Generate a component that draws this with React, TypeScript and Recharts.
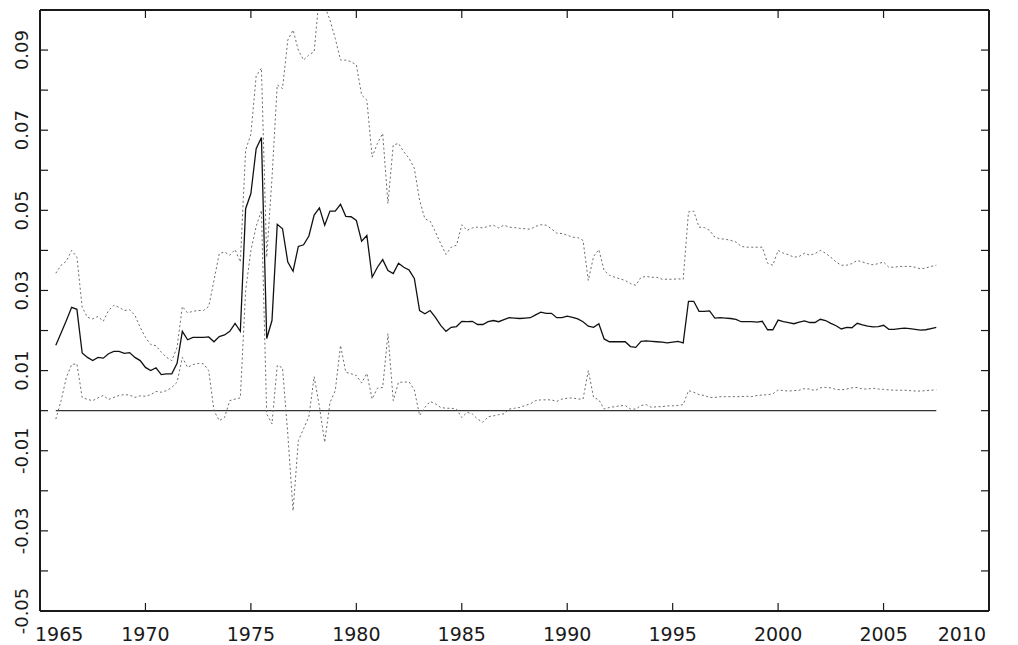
import { LineChart, Line, XAxis, YAxis, ReferenceLine } from 'recharts'

// quarterly estimates, first observation 1965Q4
const START_YEAR = 1965.75
const STEP = 0.25

const mean = [
  0.0163, 0.0194, 0.0225, 0.0258, 0.0253, 0.0144, 0.0133, 0.0125, 0.0133, 0.0131,
  0.0142, 0.0148, 0.0148, 0.0143, 0.0145, 0.0133, 0.0125, 0.0108, 0.0100, 0.0107,
  0.0090, 0.0092, 0.0092, 0.0118, 0.0198, 0.0177, 0.0183, 0.0183, 0.0183, 0.0184,
  0.0172, 0.0185, 0.0189, 0.0198, 0.0218, 0.0198, 0.0504, 0.0542, 0.0654, 0.0682,
  0.0180, 0.0225, 0.0465, 0.0454, 0.0371, 0.0348, 0.0410, 0.0414, 0.0436, 0.0488,
  0.0506, 0.0463, 0.0498, 0.0498, 0.0515, 0.0485, 0.0484, 0.0475, 0.0423, 0.0437,
  0.0333, 0.0358, 0.0377, 0.0350, 0.0342, 0.0368, 0.0358, 0.0351, 0.0330, 0.0250,
  0.0242, 0.0250, 0.0233, 0.0213, 0.0198, 0.0208, 0.0210, 0.0223, 0.0222, 0.0223,
  0.0215, 0.0215, 0.0222, 0.0225, 0.0222, 0.0227, 0.0232, 0.0231, 0.0230, 0.0231,
  0.0232, 0.0239, 0.0246, 0.0243, 0.0243, 0.0232, 0.0232, 0.0236, 0.0233, 0.0229,
  0.0222, 0.0211, 0.0208, 0.0217, 0.0179, 0.0172, 0.0172, 0.0172, 0.0172, 0.0160,
  0.0158, 0.0173, 0.0174, 0.0173, 0.0172, 0.0171, 0.0169, 0.0171, 0.0173, 0.0169,
  0.0273, 0.0273, 0.0248, 0.0248, 0.0249, 0.0231, 0.0232, 0.0231, 0.0230, 0.0228,
  0.0222, 0.0222, 0.0222, 0.0221, 0.0223, 0.0202, 0.0202, 0.0226, 0.0222, 0.0220,
  0.0217, 0.0221, 0.0224, 0.0220, 0.0220, 0.0228, 0.0225, 0.0218, 0.0212, 0.0204,
  0.0208, 0.0207, 0.0218, 0.0214, 0.0211, 0.0209, 0.0210, 0.0213, 0.0203, 0.0203,
  0.0205, 0.0206, 0.0205, 0.0203, 0.0201, 0.0202, 0.0205, 0.0208,
]

const upper = [
  0.0343, 0.0363, 0.0373, 0.0400, 0.0383, 0.0258, 0.0233, 0.0229, 0.0235, 0.0223,
  0.0250, 0.0263, 0.0258, 0.0250, 0.0252, 0.0238, 0.0208, 0.0183, 0.0165, 0.0162,
  0.0146, 0.0133, 0.0125, 0.0158, 0.0260, 0.0244, 0.0248, 0.0250, 0.0250, 0.0260,
  0.0325, 0.0392, 0.0396, 0.0388, 0.0402, 0.0371, 0.0650, 0.0690, 0.0835, 0.0855,
  0.0383, 0.0580, 0.0813, 0.0804, 0.0925, 0.0950, 0.0900, 0.0875, 0.0888, 0.0896,
  0.1040, 0.1010, 0.0975, 0.0929, 0.0875, 0.0875, 0.0871, 0.0863, 0.0788, 0.0775,
  0.0633, 0.0667, 0.0692, 0.0517, 0.0663, 0.0667, 0.0646, 0.0630, 0.0605, 0.0525,
  0.0479, 0.0473, 0.0446, 0.0417, 0.0390, 0.0408, 0.0413, 0.0464, 0.0450, 0.0456,
  0.0458, 0.0456, 0.0460, 0.0463, 0.0456, 0.0463, 0.0458, 0.0457, 0.0455, 0.0454,
  0.0453, 0.0460, 0.0464, 0.0463, 0.0454, 0.0443, 0.0442, 0.0438, 0.0433, 0.0432,
  0.0425, 0.0325, 0.0385, 0.0402, 0.0350, 0.0338, 0.0333, 0.0329, 0.0325, 0.0317,
  0.0313, 0.0333, 0.0335, 0.0333, 0.0333, 0.0328, 0.0328, 0.0328, 0.0329, 0.0328,
  0.0496, 0.0498, 0.0458, 0.0457, 0.0450, 0.0433, 0.0429, 0.0428, 0.0425, 0.0421,
  0.0410, 0.0408, 0.0408, 0.0408, 0.0408, 0.0368, 0.0363, 0.0400, 0.0393, 0.0389,
  0.0383, 0.0385, 0.0393, 0.0388, 0.0392, 0.0400, 0.0393, 0.0383, 0.0371, 0.0363,
  0.0363, 0.0367, 0.0375, 0.0371, 0.0367, 0.0364, 0.0367, 0.0371, 0.0358, 0.0358,
  0.0360, 0.0360, 0.0360, 0.0358, 0.0354, 0.0356, 0.0360, 0.0363,
]

const lower = [
  -0.0021, 0.0025, 0.0083, 0.0115, 0.0117, 0.0033, 0.0028, 0.0025, 0.0032, 0.0038,
  0.0028, 0.0033, 0.0038, 0.0040, 0.0039, 0.0033, 0.0037, 0.0036, 0.0040, 0.0048,
  0.0046, 0.0050, 0.0058, 0.0071, 0.0133, 0.0108, 0.0115, 0.0118, 0.0117, 0.0100,
  0.0000, -0.0025, -0.0017, 0.0025, 0.0029, 0.0032, 0.0300, 0.0400, 0.0460, 0.0500,
  -0.0008, -0.0033, 0.0113, 0.0107, -0.0058, -0.0250, -0.0075, -0.0045, -0.0015, 0.0085,
  0.0010, -0.0079, 0.0020, 0.0050, 0.0163, 0.0096, 0.0092, 0.0088, 0.0069, 0.0093,
  0.0029, 0.0056, 0.0058, 0.0192, 0.0025, 0.0071, 0.0071, 0.0072, 0.0052, -0.0012,
  0.0008, 0.0023, 0.0017, 0.0008, 0.0006, 0.0006, 0.0004, -0.0017, -0.0004, -0.0008,
  -0.0021, -0.0029, -0.0015, -0.0013, -0.0010, -0.0008, 0.0004, 0.0006, 0.0008, 0.0013,
  0.0017, 0.0025, 0.0027, 0.0027, 0.0027, 0.0023, 0.0029, 0.0031, 0.0032, 0.0029,
  0.0029, 0.0100, 0.0033, 0.0027, 0.0004, 0.0008, 0.0010, 0.0012, 0.0013, 0.0004,
  0.0004, 0.0013, 0.0015, 0.0008, 0.0010, 0.0010, 0.0012, 0.0012, 0.0013, 0.0015,
  0.0050, 0.0046, 0.0040, 0.0038, 0.0033, 0.0033, 0.0035, 0.0035, 0.0035, 0.0035,
  0.0035, 0.0036, 0.0035, 0.0038, 0.0039, 0.0040, 0.0042, 0.0052, 0.0050, 0.0049,
  0.0050, 0.0051, 0.0055, 0.0054, 0.0050, 0.0057, 0.0058, 0.0057, 0.0053, 0.0052,
  0.0054, 0.0057, 0.0058, 0.0054, 0.0054, 0.0056, 0.0054, 0.0053, 0.0052, 0.0051,
  0.0051, 0.0051, 0.0050, 0.0049, 0.0049, 0.0050, 0.0051, 0.0052,
]

const yearTicks = [1965, 1970, 1975, 1980, 1985, 1990, 1995, 2000, 2005, 2010]
const rateTicks = [
  -0.05, -0.04, -0.03, -0.02, -0.01, 0, 0.01, 0.02, 0.03, 0.04, 0.05, 0.06, 0.07, 0.08, 0.09, 0.1,
]

const quarters = mean.map((_, i) => START_YEAR + i * STEP)
const data = quarters.map((t, i) => ({ t, mean: mean[i], upper: upper[i], lower: lower[i] }))

const W = 1018
const H = 645
const PLOT = { left: 40, right: 989, top: 10, bottom: 611 }
const TICK = 8
const FONT = '"DejaVu Sans", Verdana, sans-serif'
const INK = '#1a1a1a'
const BAND = '#6a6a6a'

const inside = (v: number, a: number, b: number) => v > a + 1 && v < b - 1

function BottomTick({ x, payload }: any) {
  // end labels are pulled inside the frame
  let anchor: 'start' | 'middle' | 'end' = 'middle'
  let tx = x
  if (x <= PLOT.left + 1) {
    anchor = 'start'
    tx = x - 5
  } else if (x >= PLOT.right - 1) {
    anchor = 'end'
    tx = x - 3
  }
  return (
    <g>
      {inside(x, PLOT.left, PLOT.right) && (
        <line x1={x} x2={x} y1={PLOT.bottom} y2={PLOT.bottom - TICK} stroke={INK} strokeWidth={1.2} />
      )}
      <text x={tx} y={641} textAnchor={anchor} fontSize={19} fontFamily={FONT} fill={INK}>
        {payload.value}
      </text>
    </g>
  )
}

function TopTick({ x }: any) {
  if (!inside(x, PLOT.left, PLOT.right)) return <g />
  return <line x1={x} x2={x} y1={PLOT.top} y2={PLOT.top + TICK} stroke={INK} strokeWidth={1.2} />
}

function LeftTick({ y, payload }: any) {
  const v: number = payload.value
  const labelled = Math.abs(Math.round(v * 100)) % 2 === 1
  return (
    <g>
      {inside(y, PLOT.top, PLOT.bottom) && (
        <line x1={PLOT.left} x2={PLOT.left + TICK} y1={y} y2={y} stroke={INK} strokeWidth={1.2} />
      )}
      {labelled && (
        <text
          x={28}
          y={y}
          transform={`rotate(-90, 28, ${y})`}
          textAnchor="middle"
          fontSize={18}
          fontFamily={FONT}
          fill={INK}
        >
          {v.toFixed(2)}
        </text>
      )}
    </g>
  )
}

function RightTick({ y }: any) {
  if (!inside(y, PLOT.top, PLOT.bottom)) return <g />
  return <line x1={PLOT.right} x2={PLOT.right - TICK} y1={y} y2={y} stroke={INK} strokeWidth={1.2} />
}

const axisLine = { stroke: INK, strokeWidth: 2 }

export default function App() {
  return (
    <div style={{ position: 'absolute', left: 0, top: 0, width: W, height: H, background: '#fff' }}>
      <LineChart width={W} height={H} data={data} margin={{ top: 0, right: 0, bottom: 0, left: 0 }}>
        <XAxis
          dataKey="t"
          type="number"
          domain={[1965, 2010]}
          ticks={yearTicks}
          interval={0}
          height={H - PLOT.bottom}
          axisLine={axisLine}
          tickLine={false}
          tick={<BottomTick />}
        />
        <XAxis
          xAxisId="top"
          orientation="top"
          dataKey="t"
          type="number"
          domain={[1965, 2010]}
          ticks={yearTicks}
          interval={0}
          height={PLOT.top}
          axisLine={axisLine}
          tickLine={false}
          tick={<TopTick />}
        />
        <YAxis
          type="number"
          domain={[-0.05, 0.1]}
          ticks={rateTicks}
          interval={0}
          allowDataOverflow
          width={PLOT.left}
          axisLine={axisLine}
          tickLine={false}
          tick={<LeftTick />}
        />
        <YAxis
          yAxisId="right"
          orientation="right"
          type="number"
          domain={[-0.05, 0.1]}
          ticks={rateTicks}
          interval={0}
          allowDataOverflow
          width={W - PLOT.right}
          axisLine={axisLine}
          tickLine={false}
          tick={<RightTick />}
        />
        <ReferenceLine
          segment={[
            { x: quarters[0], y: 0 },
            { x: quarters[quarters.length - 1], y: 0 },
          ]}
          stroke="#333"
          strokeWidth={1.2}
        />
        <Line
          type="linear"
          dataKey="upper"
          stroke={BAND}
          strokeWidth={1}
          strokeDasharray="2 2.5"
          dot={false}
          isAnimationActive={false}
        />
        <Line
          type="linear"
          dataKey="lower"
          stroke={BAND}
          strokeWidth={1}
          strokeDasharray="2 2.5"
          dot={false}
          isAnimationActive={false}
        />
        <Line
          type="linear"
          dataKey="mean"
          stroke="#111"
          strokeWidth={1.3}
          dot={false}
          isAnimationActive={false}
        />
      </LineChart>
    </div>
  )
}
